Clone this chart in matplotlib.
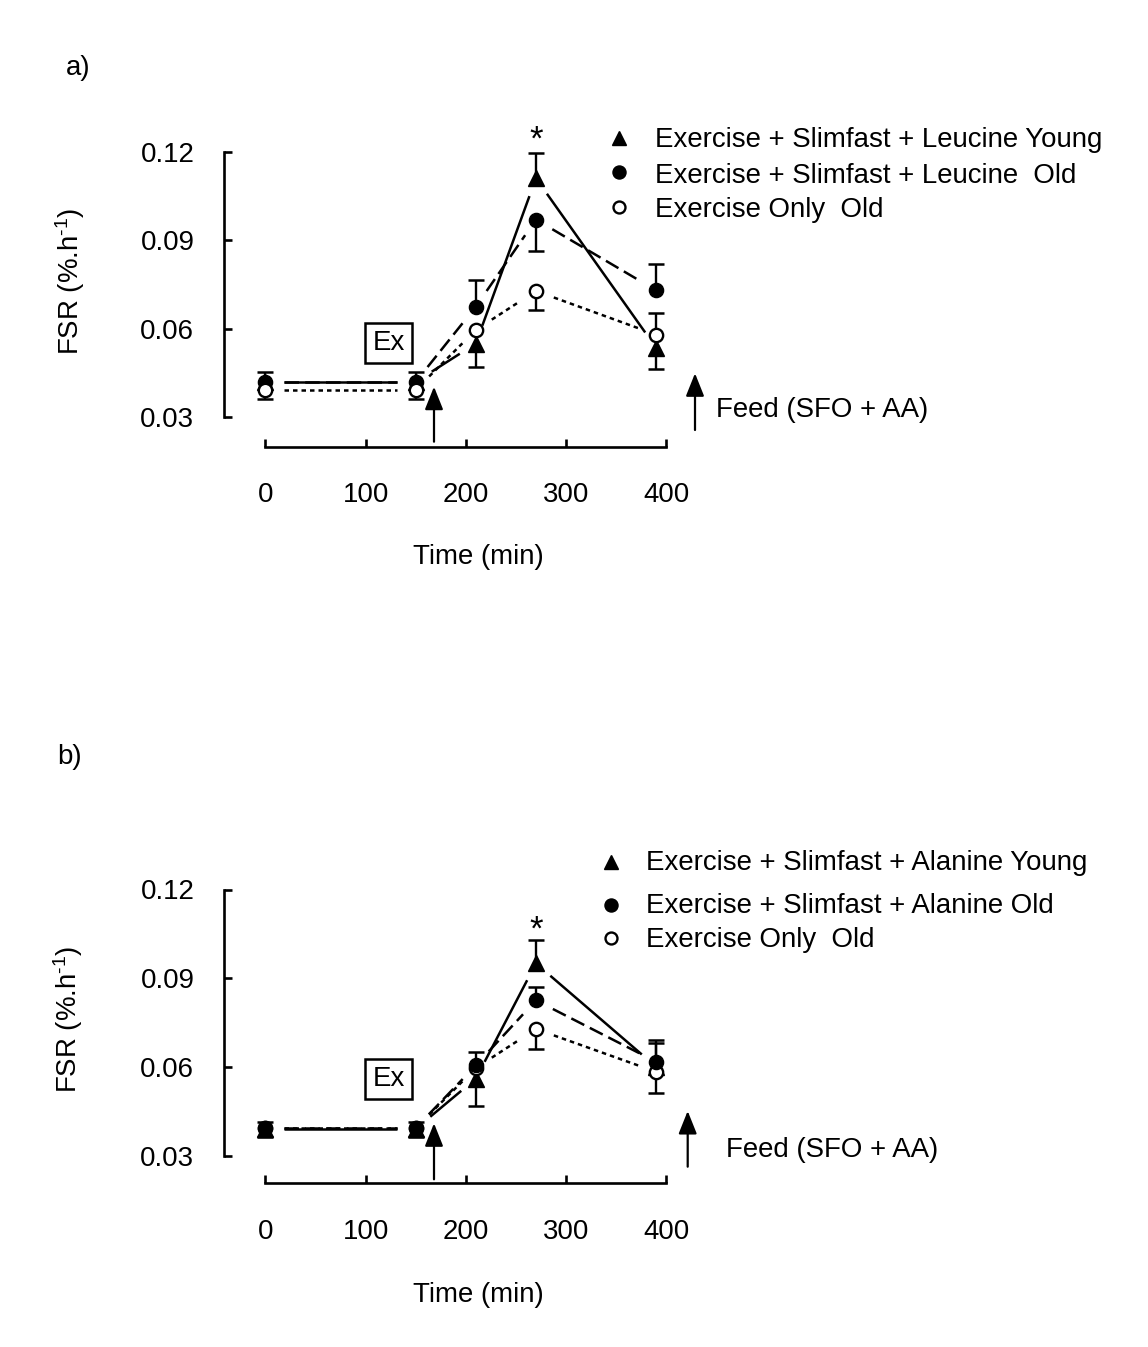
import numpy as np
import matplotlib
matplotlib.use("Agg")
import matplotlib.pyplot as plt
from matplotlib.lines import Line2D

plt.rcParams['font.family'] = ['Liberation Sans', 'DejaVu Sans']
plt.rcParams['mathtext.fontset'] = 'custom'
plt.rcParams['mathtext.rm'] = 'Liberation Sans'
plt.rcParams['mathtext.default'] = 'regular'

W, H, DPI = 1148, 1347, 100
FS = 19.9

# ---------------- data ----------------
time_min = [0, 150, 210, 270, 390]
x_ticks = [0, 100, 200, 300, 400]
y_ticks = [0.03, 0.06, 0.09, 0.12]
y_ticklabels = ["0.03", "0.06", "0.09", "0.12"]

# Panel a (Leucine)
a_young = [0.042, 0.042, 0.055, 0.111, 0.0535]
a_young_lo = [0, 0, 0.008, 0, 0.007]
a_young_hi = [0, 0, 0, 0.0087, 0]
a_old = [0.042, 0.042, 0.0675, 0.097, 0.073]
a_old_lo = [0, 0, 0, 0.0105, 0]
a_old_hi = [0.0035, 0.0035, 0.009, 0, 0.009]
a_ex = [0.0393, 0.0393, 0.0596, 0.0728, 0.058]
a_ex_lo = [0.003, 0.003, 0, 0.0064, 0]
a_ex_hi = [0, 0, 0, 0, 0.0073]

# Panel b (Alanine)
b_young = [0.039, 0.039, 0.056, 0.095, 0.060]
b_young_lo = [0, 0, 0.0093, 0, 0]
b_young_hi = [0, 0, 0, 0.008, 0.008]
b_old = [0.0393, 0.0393, 0.0605, 0.0825, 0.0617]
b_old_lo = [0, 0, 0, 0, 0]
b_old_hi = [0.002, 0.002, 0.0045, 0.0045, 0.0075]
b_ex = [0.0393, 0.0393, 0.0596, 0.0728, 0.0583]
b_ex_lo = [0.003, 0.003, 0, 0.0066, 0.0073]
b_ex_hi = [0, 0, 0, 0, 0]

labels_a = ["Exercise + Slimfast + Leucine Young",
            "Exercise + Slimfast + Leucine  Old",
            "Exercise Only  Old"]
labels_b = ["Exercise + Slimfast + Alanine Young",
            "Exercise + Slimfast + Alanine Old",
            "Exercise Only  Old"]

# ---------------- helpers ----------------
fig = plt.figure(figsize=(W / DPI, H / DPI), dpi=DPI)
fig.patch.set_facecolor('white')


def fx(px):
    return px / W


def fy(py):
    return 1 - py / H


LW_AX = 1.9
LW_LINE = 1.8
LW_ERR = 1.7
GAP = 19  # pixels of gap between line ends and markers

STY_YOUNG = dict(color='k', lw=LW_LINE, ls='-')
STY_OLD = dict(color='k', lw=LW_LINE, ls=(0, (5.8, 2.5)))
STY_EX = dict(color='k', lw=LW_LINE, ls=(0, (1.8, 1.6)))

MK_YOUNG = dict(marker='^', ms=11.0, mfc='k', mec='k', mew=1.0)
MK_OLD = dict(marker='o', ms=10.2, mfc='k', mec='k', mew=1.0)
MK_EX = dict(marker='o', ms=9.6, mfc='white', mec='k', mew=1.7)

YLABEL = "FSR (%.h$^{\u20101}$)"


def make_axes(spine_px, x0_px, px_per_min, xaxis_px, y03_px, y12_px):
    py_per = (y03_px - y12_px) / 0.09
    xlim0 = -(x0_px - spine_px) / px_per_min
    xlim1 = 450
    right_px = spine_px + (xlim1 - xlim0) * px_per_min
    ylim0 = 0.03 - (xaxis_px - y03_px) / py_per
    ylim1 = 0.13
    top_px = xaxis_px - (ylim1 - ylim0) * py_per
    ax = fig.add_axes([fx(spine_px), fy(xaxis_px),
                       (right_px - spine_px) / W, (xaxis_px - top_px) / H])
    ax.set_xlim(xlim0, xlim1)
    ax.set_ylim(ylim0, ylim1)
    ax.patch.set_visible(False)
    for s in ['top', 'right']:
        ax.spines[s].set_visible(False)
    ax.spines['left'].set_bounds(0.03, 0.12)
    ax.spines['bottom'].set_bounds(0, 400)
    for s in ['left', 'bottom']:
        ax.spines[s].set_linewidth(LW_AX)
        ax.spines[s].set_capstyle('projecting')
    ax.set_xticks(x_ticks)
    ax.set_xticklabels([str(v) for v in x_ticks])
    ax.set_yticks(y_ticks)
    ax.set_yticklabels(y_ticklabels)
    ax.tick_params(axis='both', direction='in', length=6.1, width=LW_AX,
                   labelsize=FS, colors='k')
    ax.tick_params(axis='y', pad=21.5)
    ax.tick_params(axis='x', pad=25.5)
    return ax


def gapped_line(ax, x, y, style):
    pts = ax.transData.transform(np.column_stack([x, y]))
    inv = ax.transData.inverted()
    for p0, p1 in zip(pts[:-1], pts[1:]):
        d = p1 - p0
        L = np.hypot(d[0], d[1])
        if L <= 2 * GAP:
            continue
        u = d / L
        q = inv.transform(np.array([p0 + u * GAP, p1 - u * GAP]))
        ax.plot(q[:, 0], q[:, 1], zorder=2, dash_capstyle='butt',
                solid_capstyle='butt', **style)


def err_bars(ax, x, y, lo, hi):
    x = np.asarray(x, float)
    y = np.asarray(y, float)
    lo = np.asarray(lo, float)
    hi = np.asarray(hi, float)
    for e, sign in ((lo, -1), (hi, 1)):
        m = e > 0
        if not m.any():
            continue
        ends = y[m] + sign * e[m]
        ax.vlines(x[m], y[m], ends, colors='k', lw=LW_ERR, zorder=3)
        ax.plot(x[m], ends, ls='none', marker='_', ms=11.8, mew=1.8,
                color='k', zorder=3)


def series(ax, x, y, lo, hi, style, mk, z):
    gapped_line(ax, x, y, style)
    err_bars(ax, x, y, lo, hi)
    ax.plot(x, y, ls='none', zorder=z, **mk)


def legend_rows(marker_x, text_x, marker_ys, text_ys, labels):
    mks = [dict(marker='^', ms=9.5, mfc='k', mec='k', mew=1.0),
           dict(marker='o', ms=9.4, mfc='k', mec='k', mew=1.0),
           dict(marker='o', ms=8.6, mfc='white', mec='k', mew=1.7)]
    for mk, my, ty, lab in zip(mks, marker_ys, text_ys, labels):
        fig.add_artist(Line2D([fx(marker_x)], [fy(my)], ls='none',
                              transform=fig.transFigure, **mk))
        fig.text(fx(text_x), fy(ty), lab, fontsize=FS, ha='left',
                 va='baseline')


def arrow(x_px, tip_px, tail_px):
    fig.add_artist(matplotlib.patches.FancyArrowPatch(
        (fx(x_px), fy(tail_px)), (fx(x_px), fy(tip_px)),
        transform=fig.transFigure,
        arrowstyle='-|>,head_length=0.7,head_width=0.28',
        mutation_scale=20, lw=1.6, color='k', shrinkA=0, shrinkB=0))


def ex_box(x_px, y_px):
    fig.text(fx(x_px), fy(y_px), "Ex", fontsize=FS, ha='center',
             va='center',
             bbox=dict(boxstyle='square,pad=0.26', fc='white', ec='k',
                       lw=1.8))


# ---------------- panel a ----------------
ax_a = make_axes(224.2, 265.4, 1.002, 446.7, 417.3, 151.7)
series(ax_a, time_min, a_young, a_young_lo, a_young_hi, STY_YOUNG, MK_YOUNG, 4)
series(ax_a, time_min, a_old, a_old_lo, a_old_hi, STY_OLD, MK_OLD, 5)
series(ax_a, time_min, a_ex, a_ex_lo, a_ex_hi, STY_EX, MK_EX, 6)

fig.text(fx(78), fy(68), "a)", fontsize=FS, ha='center', va='center')
fig.text(fx(70), fy(281), YLABEL, fontsize=FS, rotation=90,
         ha='center', va='center')
fig.text(fx(478), fy(557), "Time (min)", fontsize=FS, ha='center',
         va='center')
fig.text(fx(535.7), fy(150), "*", fontsize=25, ha='center', va='baseline')
ex_box(388.7, 343)
arrow(434, 386.7, 441.7)
arrow(695, 373.3, 430)
fig.text(fx(716), fy(416.7), "Feed (SFO + AA)", fontsize=FS, ha='left',
         va='baseline')
legend_rows(619.3, 655.4, [138.3, 171.7, 206.7], [146.7, 183.3, 216.7],
            labels_a)

# ---------------- panel b ----------------
ax_b = make_axes(224.2, 265.4, 1.002, 1183.3, 1155.5, 889.5)
series(ax_b, time_min, b_young, b_young_lo, b_young_hi, STY_YOUNG, MK_YOUNG, 4)
series(ax_b, time_min, b_ex, b_ex_lo, b_ex_hi, STY_EX, MK_EX, 5)
series(ax_b, time_min, b_old, b_old_lo, b_old_hi, STY_OLD, MK_OLD, 6)

fig.text(fx(70), fy(757), "b)", fontsize=FS, ha='center', va='center')
fig.text(fx(68.3), fy(1019), YLABEL, fontsize=FS, rotation=90,
         ha='center', va='center')
fig.text(fx(478), fy(1295), "Time (min)", fontsize=FS, ha='center',
         va='center')
fig.text(fx(536.4), fy(940), "*", fontsize=25, ha='center', va='baseline')
ex_box(388.5, 1079)
arrow(434, 1123.3, 1179.3)
arrow(687.7, 1111, 1166.7)
fig.text(fx(726), fy(1156.7), "Feed (SFO + AA)", fontsize=FS, ha='left',
         va='baseline')
legend_rows(610.7, 646, [861.7, 905, 938.3], [870, 913.3, 946.7], labels_b)

fig.savefig("out.png", dpi=DPI, facecolor='white')
